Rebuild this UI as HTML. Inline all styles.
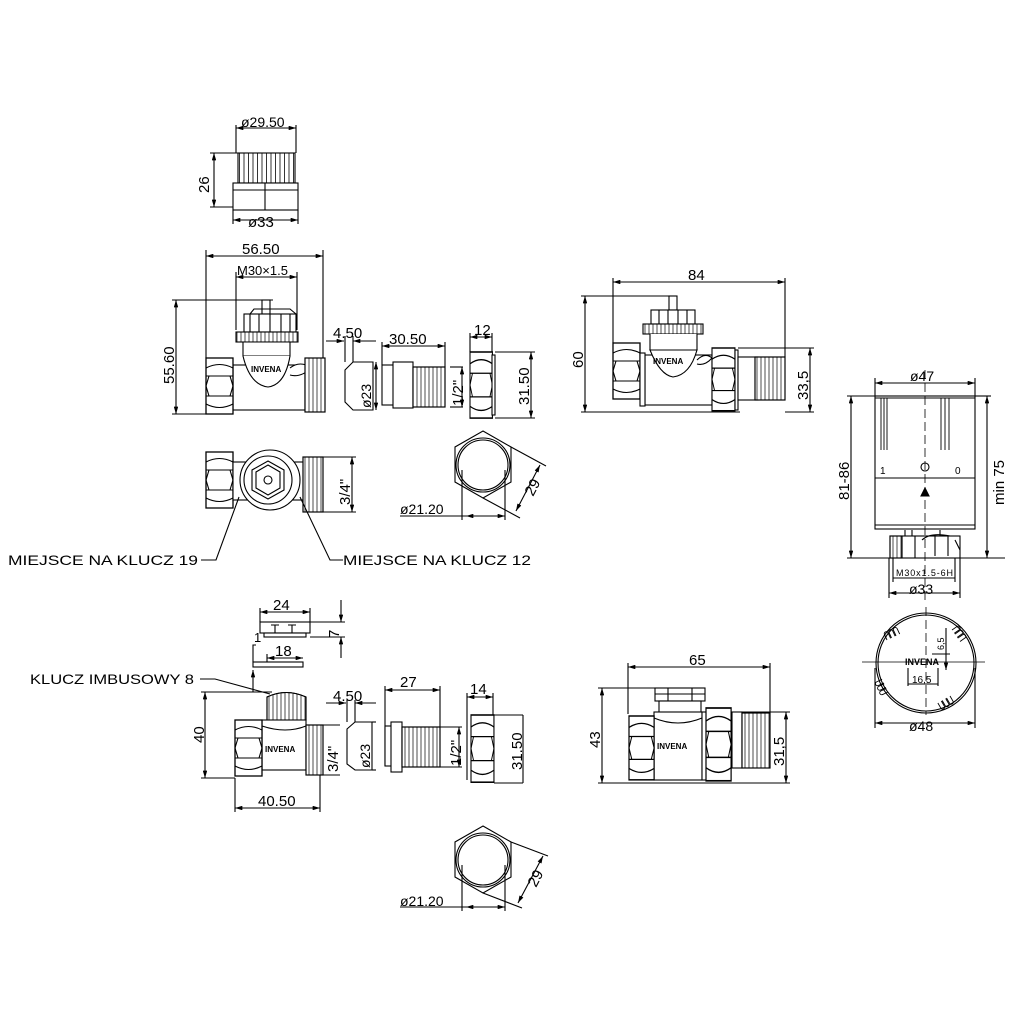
<!DOCTYPE html>
<html><head><meta charset="utf-8"><style>
html,body{margin:0;padding:0;background:#fff}
svg{display:block}
text{font-family:"Liberation Sans",sans-serif;fill:#000}
</style></head><body>
<svg width="1024" height="1024" viewBox="0 0 1024 1024" xmlns="http://www.w3.org/2000/svg">
<defs>
<marker id="a" viewBox="0 0 10 6" refX="10" refY="3" markerWidth="8" markerHeight="4" orient="auto-start-reverse"><path d="M0,0L10,3L0,6z" fill="#000"/></marker>
<pattern id="th" width="4" height="10" patternUnits="userSpaceOnUse"><rect width="4" height="10" fill="#fff"/><line x1="1" y1="0" x2="1" y2="10" stroke="#000" stroke-width="0.7"/></pattern>
<pattern id="rib" width="4.5" height="10" patternUnits="userSpaceOnUse"><rect width="4.5" height="10" fill="#fff"/><line x1="1" y1="0" x2="1" y2="10" stroke="#000" stroke-width="0.8"/></pattern>
<g id="hexside">
<rect x="0" y="0" width="27" height="56" fill="#fff" stroke="#000" stroke-width="1.3"/>
<path d="M0,10 Q13.5,3 27,10 M0,18 L27,18 M0,38 L27,38 M0,46 Q13.5,53 27,46 M3,18 L0,28 L3,38 M24,18 L27,28 L24,38" fill="none" stroke="#000"/>
</g>
<path id="bump" d="M0,0 v-6 a2,2 0 0 1 4,0 v6 M5,0 v-6 a2,2 0 0 1 4,0 v6 M10,0 v-6 a2,2 0 0 1 4,0 v6" fill="none" stroke="#000" stroke-width="0.9"/>
</defs>
<g stroke="#000" stroke-width="1.1" fill="none">

<line x1="236" y1="128" x2="296" y2="128" marker-start="url(#a)" marker-end="url(#a)"/>
<line x1="236" y1="125" x2="236" y2="153"/><line x1="296" y1="125" x2="296" y2="153"/>
<rect x="238" y="153" width="57" height="30" fill="url(#rib)"/>
<rect x="233" y="183" width="65" height="27" fill="#fff"/>
<line x1="233" y1="190" x2="298" y2="190"/><line x1="265" y1="183" x2="265" y2="210"/>
<line x1="214" y1="153" x2="214" y2="207" marker-start="url(#a)" marker-end="url(#a)"/>
<line x1="210" y1="153" x2="238" y2="153"/><line x1="210" y1="207" x2="233" y2="207"/>
<line x1="233" y1="210" x2="233" y2="224"/><line x1="298" y1="210" x2="298" y2="224"/>
<line x1="233" y1="220" x2="298" y2="220" marker-start="url(#a)" marker-end="url(#a)"/>

<line x1="206" y1="256" x2="323" y2="256" marker-start="url(#a)" marker-end="url(#a)"/>
<line x1="206" y1="250" x2="206" y2="358"/><line x1="323" y1="250" x2="323" y2="360"/>
<line x1="236" y1="277" x2="297" y2="277" marker-start="url(#a)" marker-end="url(#a)"/>
<line x1="236" y1="272" x2="236" y2="330"/><line x1="297" y1="272" x2="297" y2="330"/>
<line x1="176" y1="300" x2="176" y2="414" marker-start="url(#a)" marker-end="url(#a)"/>
<line x1="172" y1="300" x2="273" y2="300"/><line x1="172" y1="414" x2="206" y2="414"/>
<rect x="262" y="300" width="8" height="14" fill="#fff"/>
<rect x="244" y="314" width="52" height="18" fill="#fff"/>
<path d="M250,314V332 M259,314V332 M270,314V332 M281,314V332 M290,314V332 M250,314 L254,309 L290,309 L296,314"/>
<rect x="236" y="332" width="62" height="10" fill="url(#th)"/>
<path d="M243,342 L243,356 L290,356 L290,342 Z" fill="#fff"/>
<rect x="233" y="365" width="72" height="45" fill="#fff"/>
<path d="M243,356 Q250,385 268,387 Q285,385 290,356" fill="#fff"/>
<path d="M290,368 Q300,360 312,368 Q300,378 290,375" fill="#fff"/>
<text x="251" y="372" font-size="8" font-weight="bold" stroke="none">INVENA</text>
<use href="#hexside" x="206" y="358"/>
<rect x="305" y="358" width="20" height="54" fill="url(#th)"/>
<rect x="305" y="358" width="20" height="54"/>

<line x1="326" y1="341" x2="344" y2="341" marker-end="url(#a)"/><line x1="353" y1="341" x2="376" y2="341" marker-start="url(#a)"/>
<line x1="345" y1="336" x2="345" y2="362"/><line x1="353" y1="336" x2="353" y2="362"/>
<path d="M345,370 L353,362 L373,362 L373,410 L353,410 L345,402 Z" fill="#fff"/>
<line x1="376" y1="362" x2="376" y2="410" marker-start="url(#a)" marker-end="url(#a)"/>
<line x1="382" y1="346" x2="445" y2="346" marker-start="url(#a)" marker-end="url(#a)"/>
<line x1="382" y1="342" x2="382" y2="365"/><line x1="445" y1="342" x2="445" y2="367"/>
<rect x="382" y="365" width="15" height="40" fill="#fff"/>
<rect x="393" y="362" width="20" height="46" fill="#fff"/>
<rect x="413" y="367" width="32" height="40" fill="url(#th)"/><rect x="413" y="367" width="32" height="40"/>
<line x1="450" y1="367" x2="463" y2="367"/><line x1="450" y1="407" x2="463" y2="407"/>
<line x1="462" y1="367" x2="462" y2="407" marker-start="url(#a)" marker-end="url(#a)"/>
<line x1="470" y1="337" x2="492" y2="337" marker-start="url(#a)" marker-end="url(#a)"/>
<line x1="470" y1="333" x2="470" y2="352"/><line x1="492" y1="333" x2="492" y2="352"/>
<g transform="translate(470,352) scale(0.83,1.18)"><use href="#hexside"/></g>
<rect x="492" y="355" width="3" height="60" fill="#fff"/>
<line x1="495" y1="352" x2="535" y2="352"/><line x1="495" y1="418" x2="535" y2="418"/>
<line x1="531" y1="352" x2="531" y2="418" marker-start="url(#a)" marker-end="url(#a)"/>

<use href="#hexside" x="206" y="452"/>
<rect x="233" y="462" width="72" height="38" fill="#fff"/>
<circle cx="270" cy="480" r="30" fill="#fff"/>
<circle cx="268" cy="480" r="24" fill="#fff"/>
<path d="M268,461 L284,470 L284,490 L268,499 L252,490 L252,470 Z" fill="#fff"/>
<path d="M268,465 L280,472 L280,488 L268,495 L256,488 L256,472 Z"/>
<circle cx="268" cy="480" r="4"/>
<rect x="303" y="457" width="20" height="55" fill="url(#th)"/><rect x="303" y="457" width="20" height="55"/>
<line x1="323" y1="457" x2="356" y2="457"/><line x1="323" y1="512" x2="356" y2="512"/>
<line x1="352" y1="457" x2="352" y2="512" marker-start="url(#a)" marker-end="url(#a)"/>
<path d="M483,431 L511,447 L511,482 L483,498 L455,482 L455,447 Z" fill="#fff"/>
<circle cx="483" cy="465" r="25"/><circle cx="483" cy="465" r="27"/>
<line x1="462" y1="470" x2="462" y2="520"/><line x1="505" y1="470" x2="505" y2="520"/>
<line x1="400" y1="516" x2="505" y2="516"/>
<line x1="466" y1="516" x2="505" y2="516" marker-start="url(#a)" marker-end="url(#a)"/>
<line x1="511" y1="447" x2="546" y2="466"/><line x1="483" y1="498" x2="520" y2="518"/>
<line x1="540" y1="465" x2="516" y2="511" marker-start="url(#a)" marker-end="url(#a)"/>
<polyline points="201,560 216,560 239,497"/>
<polyline points="343,560 330,560 300,497"/>

<line x1="613" y1="282" x2="785" y2="282" marker-start="url(#a)" marker-end="url(#a)"/>
<line x1="613" y1="278" x2="613" y2="343"/><line x1="785" y1="278" x2="785" y2="357"/>
<line x1="585" y1="296" x2="585" y2="412" marker-start="url(#a)" marker-end="url(#a)"/>
<line x1="581" y1="296" x2="677" y2="296"/><line x1="581" y1="412" x2="740" y2="412"/>
<rect x="669" y="296" width="8" height="14" fill="#fff"/>
<rect x="651" y="310" width="44" height="14" fill="#fff"/>
<path d="M659,310V324 M668,310V324 M678,310V324 M687,310V324"/>
<rect x="643" y="324" width="60" height="10" fill="url(#th)"/>
<path d="M650,334 L650,350 L697,350 L697,334" fill="#fff"/>
<rect x="645" y="355" width="67" height="50" fill="#fff"/>
<path d="M650,350 Q660,375 673,377 Q690,375 697,350 Z" fill="#fff"/>
<path d="M697,360 Q705,352 712,358 Q705,366 697,364" fill="#fff"/>
<text x="653" y="364" font-size="8" font-weight="bold" stroke="none">INVENA</text>
<use href="#hexside" x="613" y="343"/>
<rect x="640" y="353" width="5" height="53" fill="#fff"/>
<g transform="translate(712,348) scale(0.85,1.12)"><use href="#hexside"/></g>
<rect x="735" y="350" width="3" height="60" fill="#fff"/>
<rect x="738" y="357" width="20" height="43" fill="#fff"/>
<rect x="755" y="357" width="30" height="43" fill="url(#th)"/><rect x="755" y="357" width="30" height="43"/>
<line x1="738" y1="348" x2="814" y2="348"/>
<line x1="810" y1="348" x2="810" y2="412" marker-start="url(#a)" marker-end="url(#a)"/>
<line x1="785" y1="412" x2="814" y2="412"/>

<line x1="875" y1="383" x2="975" y2="383" marker-start="url(#a)" marker-end="url(#a)"/>
<line x1="875" y1="378" x2="875" y2="396"/><line x1="975" y1="378" x2="975" y2="396"/>
<rect x="875" y="396" width="100" height="133" fill="#fff"/>
<line x1="875" y1="478" x2="975" y2="478"/><line x1="875" y1="398" x2="975" y2="398"/><line x1="875" y1="525" x2="975" y2="525"/>
<path d="M881,398V450 M884,398V450 M887,398V450 M941,398V450 M945,398V450 M949,398V450" stroke-width="0.9"/>
<line x1="925" y1="370" x2="925" y2="600" stroke-dasharray="9,4" stroke-width="0.8"/>
<circle cx="925" cy="467" r="4"/>
<path d="M921,496 L925,488 L929,496 Z" fill="#000"/>
<text x="880" y="474" font-size="10" stroke="none">1</text>
<text x="955" y="474" font-size="10" stroke="none">0</text>
<rect x="890" y="536" width="12" height="22" fill="url(#th)"/>
<rect x="890" y="536" width="70" height="22"/>
<path d="M902,536V558 M915,536 L915,558 M922,540 Q930,532 950,536 M935,536V556 M948,536V556 M905,530V536 M912,530V536 M940,530V536 M955,540L960,550"/>
<line x1="851" y1="396" x2="851" y2="558" marker-start="url(#a)" marker-end="url(#a)"/>
<line x1="847" y1="396" x2="875" y2="396"/><line x1="847" y1="558" x2="1005" y2="558"/>
<line x1="987" y1="396" x2="987" y2="558" marker-start="url(#a)" marker-end="url(#a)"/>
<line x1="975" y1="396" x2="991" y2="396"/>
<line x1="893" y1="558" x2="893" y2="582"/><line x1="955" y1="558" x2="955" y2="582"/>
<line x1="893" y1="578" x2="955" y2="578"/>
<line x1="889" y1="558" x2="889" y2="598"/><line x1="960" y1="558" x2="960" y2="598"/>
<line x1="889" y1="593" x2="960" y2="593" marker-start="url(#a)" marker-end="url(#a)"/>
<circle cx="926" cy="663" r="50"/><circle cx="926" cy="663" r="48"/>
<line x1="862" y1="662" x2="985" y2="662" stroke-width="0.8"/>
<line x1="926" y1="607" x2="926" y2="715" stroke-dasharray="9,4" stroke-width="0.8"/>
<use href="#bump" transform="translate(887,640) rotate(-25)"/>
<use href="#bump" transform="translate(952,630) rotate(55)"/>
<use href="#bump" transform="translate(888,692) rotate(-115)"/>
<use href="#bump" transform="translate(950,696) rotate(150)"/>
<line x1="932" y1="654" x2="950" y2="654"/><line x1="946" y1="628" x2="946" y2="670" marker-end="url(#a)"/>
<text font-size="9" x="905" y="665" stroke="none" font-weight="bold">INVENA</text>
<line x1="908" y1="668" x2="908" y2="686"/><line x1="938" y1="668" x2="938" y2="686"/>
<line x1="908" y1="684" x2="938" y2="684"/>
<line x1="875" y1="668" x2="875" y2="728"/><line x1="975" y1="668" x2="975" y2="728"/>
<line x1="875" y1="723" x2="975" y2="723" marker-start="url(#a)" marker-end="url(#a)"/>

<line x1="260" y1="612" x2="310" y2="612" marker-start="url(#a)" marker-end="url(#a)"/>
<line x1="260" y1="608" x2="260" y2="622"/><line x1="310" y1="608" x2="310" y2="622"/>
<rect x="260" y="622" width="50" height="11" fill="#fff"/>
<rect x="264" y="633" width="42" height="4" fill="#fff"/>
<path d="M275,625V633 M292,625V633 M271,625H279 M288,625H296 M271,633H279 M288,633H296"/>
<line x1="310" y1="622" x2="345" y2="622"/><line x1="310" y1="637" x2="345" y2="637"/>
<line x1="341" y1="600" x2="341" y2="622" marker-end="url(#a)"/><line x1="341" y1="637" x2="341" y2="658" marker-start="url(#a)"/>
<line x1="267" y1="658" x2="303" y2="658" marker-start="url(#a)" marker-end="url(#a)"/>
<line x1="267" y1="654" x2="267" y2="662"/>
<rect x="253" y="662" width="50" height="5" fill="#fff"/>
<polyline points="253,662 253,645 256,645"/>
<line x1="253" y1="670" x2="253" y2="692" marker-start="url(#a)"/>
<polyline points="200,679 215,679 270,694"/>
<line x1="205" y1="692" x2="205" y2="778" marker-start="url(#a)" marker-end="url(#a)"/>
<line x1="201" y1="692" x2="272" y2="692"/><line x1="201" y1="778" x2="235" y2="778"/>
<path d="M267,697 Q286,688 306,697 L306,720 L267,720 Z" fill="url(#th)"/>
<path d="M267,697 Q286,688 306,697 L306,720 L267,720 Z"/>
<rect x="262" y="720" width="44" height="50" fill="#fff"/>
<path d="M262,726 Q286,734 306,726"/>
<text x="265" y="752" font-size="8" font-weight="bold" stroke="none">INVENA</text>
<use href="#hexside" x="235" y="720"/>
<rect x="306" y="725" width="17" height="50" fill="url(#th)"/><rect x="306" y="725" width="17" height="50"/>
<line x1="323" y1="725" x2="340" y2="725"/><line x1="323" y1="775" x2="340" y2="775"/>
<line x1="235" y1="778" x2="235" y2="812"/><line x1="320" y1="775" x2="320" y2="812"/>
<line x1="235" y1="808" x2="320" y2="808" marker-start="url(#a)" marker-end="url(#a)"/>
<line x1="326" y1="703" x2="346" y2="703" marker-end="url(#a)"/><line x1="355" y1="703" x2="376" y2="703" marker-start="url(#a)"/>
<line x1="347" y1="700" x2="347" y2="722"/><line x1="355" y1="700" x2="355" y2="722"/>
<path d="M347,729 L355,722 L372,722 L372,770 L355,770 L347,764 Z" fill="#fff"/>
<line x1="372" y1="722" x2="376" y2="722"/><line x1="372" y1="770" x2="376" y2="770"/>
<line x1="385" y1="690" x2="440" y2="690" marker-start="url(#a)" marker-end="url(#a)"/>
<line x1="385" y1="686" x2="385" y2="766"/><line x1="440" y1="686" x2="440" y2="727"/>
<rect x="385" y="726" width="10" height="40" fill="#fff"/>
<rect x="391" y="722" width="11" height="50" fill="#fff"/>
<rect x="402" y="727" width="38" height="40" fill="url(#th)"/><rect x="402" y="727" width="38" height="40"/>
<line x1="440" y1="727" x2="462" y2="727"/><line x1="440" y1="767" x2="462" y2="767"/>
<line x1="459" y1="727" x2="459" y2="767" marker-start="url(#a)" marker-end="url(#a)"/>
<line x1="467" y1="697" x2="493" y2="697" marker-start="url(#a)" marker-end="url(#a)"/>
<line x1="467" y1="693" x2="467" y2="780"/><line x1="493" y1="693" x2="493" y2="715"/>
<g transform="translate(471,715) scale(0.85,1.2)"><use href="#hexside"/></g>
<line x1="494" y1="715" x2="523" y2="715"/><line x1="494" y1="783" x2="523" y2="783"/>
<line x1="523" y1="715" x2="523" y2="783"/>
<path d="M483,826 L511,842 L511,877 L483,893 L455,877 L455,842 Z" fill="#fff"/>
<circle cx="483" cy="860" r="25"/><circle cx="483" cy="860" r="27"/>
<line x1="462" y1="865" x2="462" y2="911"/><line x1="505" y1="865" x2="505" y2="911"/>
<line x1="400" y1="907" x2="505" y2="907"/>
<line x1="466" y1="907" x2="505" y2="907" marker-start="url(#a)" marker-end="url(#a)"/>
<line x1="511" y1="842" x2="548" y2="856"/><line x1="483" y1="893" x2="522" y2="908"/>
<line x1="543" y1="856" x2="518" y2="903" marker-start="url(#a)" marker-end="url(#a)"/>

<line x1="628" y1="667" x2="770" y2="667" marker-start="url(#a)" marker-end="url(#a)"/>
<line x1="628" y1="663" x2="628" y2="714"/><line x1="770" y1="663" x2="770" y2="712"/>
<line x1="602" y1="688" x2="602" y2="783" marker-start="url(#a)" marker-end="url(#a)"/>
<line x1="598" y1="688" x2="655" y2="688"/><line x1="598" y1="783" x2="790" y2="783"/>
<rect x="655" y="688" width="50" height="13" fill="#fff"/>
<path d="M668,688V701 M692,688V701 M655,694H705"/>
<rect x="659" y="701" width="42" height="12" fill="#fff"/>
<rect x="654" y="712" width="48" height="68" fill="#fff"/>
<path d="M654,718 Q678,728 702,718"/>
<text x="657" y="749" font-size="8" font-weight="bold" stroke="none">INVENA</text>
<g transform="translate(629,716) scale(0.93,1.14)"><use href="#hexside"/></g>
<rect x="702" y="712" width="7" height="68" fill="#fff"/>
<g transform="translate(706,708) scale(0.93,1.3)"><use href="#hexside"/></g>
<rect x="732" y="712" width="10" height="56" fill="#fff"/>
<rect x="742" y="713" width="28" height="55" fill="url(#th)"/><rect x="742" y="713" width="28" height="55"/>
<line x1="742" y1="712" x2="790" y2="712"/>
<line x1="786" y1="712" x2="786" y2="783" marker-start="url(#a)" marker-end="url(#a)"/>
</g>

<g font-size="14" stroke="none">
<text x="241" y="127">ø29.50</text>
<text font-size="15" transform="translate(209,193) rotate(-90)">26</text>
<text x="248" y="227" font-size="15">ø33</text>
<text x="242" y="254" font-size="15">56.50</text>
<text x="237" y="275" font-size="13">M30×1.5</text>
<text font-size="15" transform="translate(174,384) rotate(-90)">55.60</text>
<text x="333" y="338" font-size="15">4.50</text>
<text x="389" y="344" font-size="15">30.50</text>
<text x="474" y="335" font-size="15">12</text>
<text font-size="15" transform="translate(529,405) rotate(-90)">31.50</text>
<text font-size="14" transform="translate(371,408) rotate(-90)">ø23</text>
<text font-size="15" transform="translate(463,406) rotate(-90)">1/2"</text>
<text font-size="15" transform="translate(350,505) rotate(-90)">3/4"</text>
<text x="400" y="514">ø21.20</text>
<text font-size="15" transform="translate(533,497) rotate(-62)">29</text>
<text x="8" y="565" textLength="190" lengthAdjust="spacingAndGlyphs">MIEJSCE NA KLUCZ 19</text>
<text x="343" y="565" textLength="188" lengthAdjust="spacingAndGlyphs">MIEJSCE NA KLUCZ 12</text>
<text x="688" y="280" font-size="15">84</text>
<text font-size="15" transform="translate(583,368) rotate(-90)">60</text>
<text font-size="15" transform="translate(808,400) rotate(-90)">33,5</text>
<text x="910" y="381">ø47</text>
<text font-size="15" transform="translate(849,500) rotate(-90)">81-86</text>
<text font-size="15" transform="translate(1004,505) rotate(-90)">min 75</text>
<text x="896" y="576" font-size="9" textLength="57">M30x1.5-6H</text>
<text x="909" y="594">ø33</text>
<text font-size="9" transform="translate(944,650) rotate(-90)">6,5</text>
<text x="912" y="683" font-size="10">16,5</text>
<text x="909" y="731">ø48</text>
<text x="273" y="610" font-size="15">24</text>
<text font-size="15" transform="translate(339,638) rotate(-90)">7</text>
<text x="254" y="642" font-size="13">1</text>
<text x="275" y="656" font-size="15">18</text>
<text x="30" y="684" textLength="164" lengthAdjust="spacingAndGlyphs">KLUCZ IMBUSOWY 8</text>
<text font-size="15" transform="translate(204,743) rotate(-90)">40</text>
<text font-size="15" transform="translate(338,772) rotate(-90)">3/4"</text>
<text x="258" y="806" font-size="15">40.50</text>
<text x="333" y="701" font-size="15">4.50</text>
<text font-size="14" transform="translate(370,768) rotate(-90)">ø23</text>
<text x="400" y="687" font-size="15">27</text>
<text font-size="15" transform="translate(461,766) rotate(-90)">1/2"</text>
<text x="470" y="694" font-size="15">14</text>
<text font-size="15" transform="translate(522,770) rotate(-90)">31.50</text>
<text x="400" y="906">ø21.20</text>
<text font-size="15" transform="translate(536,888) rotate(-62)">29</text>
<text x="689" y="665" font-size="15">65</text>
<text font-size="15" transform="translate(600,748) rotate(-90)">43</text>
<text font-size="15" transform="translate(784,766) rotate(-90)">31,5</text>
</g>
</svg>
</body></html>
